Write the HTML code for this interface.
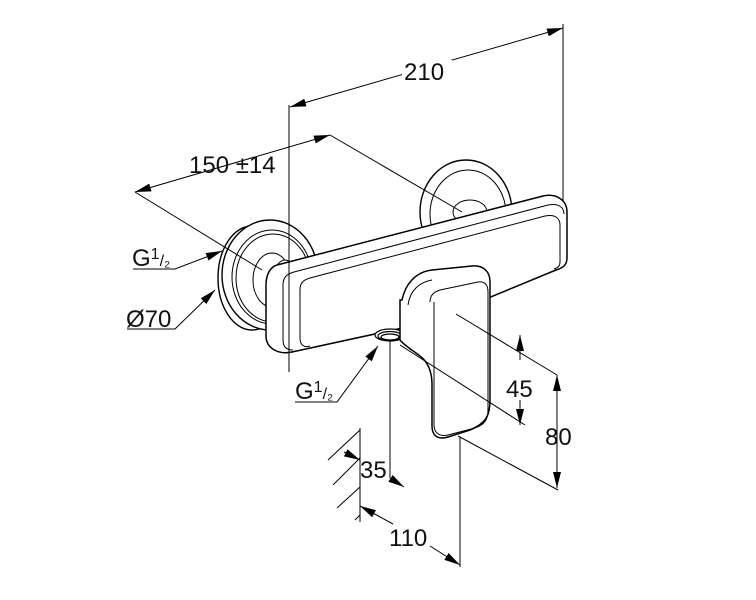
<!DOCTYPE html>
<html><head><meta charset="utf-8"><style>
html,body{margin:0;padding:0;background:#fff;}
svg{display:block;}
text{font-family:"Liberation Sans",sans-serif;fill:#111;}
</style></head><body>
<svg width="756" height="600" viewBox="0 0 756 600" xmlns="http://www.w3.org/2000/svg">
<defs>
<marker id="a" viewBox="0 0 10 5" refX="10" refY="2.5" markerWidth="17" markerHeight="8" markerUnits="userSpaceOnUse" orient="auto-start-reverse"><path d="M0,0 L10,2.5 L0,5 z" fill="#000"/></marker>
</defs>
<g fill="none" stroke="#000" stroke-width="1">
<line x1="290" y1="107" x2="563" y2="28" marker-start="url(#a)" marker-end="url(#a)"/>
<line x1="563" y1="24" x2="563" y2="215"/>
<line x1="135" y1="192" x2="330" y2="135" marker-start="url(#a)" marker-end="url(#a)"/>
<g fill="#fff" stroke-width="1.4">
<ellipse cx="466" cy="212" rx="46" ry="52"/>
</g>
<ellipse cx="468" cy="214" rx="38" ry="44"/>
<ellipse cx="470" cy="212" rx="17" ry="12"/>
<line x1="330" y1="135" x2="462" y2="212"/>
<g fill="#fff" stroke-width="1.4">
<ellipse cx="252" cy="278" rx="34" ry="52"/>
<ellipse cx="270" cy="275" rx="48" ry="55"/>
</g>
<ellipse cx="272" cy="277" rx="40" ry="47"/>
<ellipse cx="273" cy="278" rx="37" ry="44"/>
<ellipse cx="272" cy="280" rx="19" ry="27" fill="#fff"/>
<line x1="135" y1="192" x2="262" y2="270"/>
<ellipse cx="285" cy="282" rx="12" ry="22" fill="#fff"/>
<path fill="#fff" stroke-width="1.5" d="M277,265 L543,196 C556,193 567,200 567,212 L567,258 C567,265 563,268 556,270 L430,322 L292,352 C278,355 266,348 266,336 L266,285 C266,275 270,267 277,265 z"/>
<path d="M283,285 C283,277 287,274 294,272 L548,205 C558,203 564,207 564,214"/>
<path d="M300,290 C300,283 303,280 310,278 L545,216 C555,214 560,218 560,225 L560,262 C560,266 558,268 554,269"/>
<path d="M283,285 L283,340 C283,347 287,350 293,350"/>
<path d="M300,290 L300,338 C300,345 304,348 310,346"/>
<line x1="289" y1="105" x2="289" y2="372"/>
<g stroke-width="1.2" fill="#fff">
<ellipse cx="390" cy="335" rx="15" ry="6"/>
<ellipse cx="390" cy="336" rx="12" ry="4.5"/>
<ellipse cx="390" cy="337" rx="9" ry="3"/>
</g>
<path fill="#fff" stroke-width="1.5" d="M402,300 C405,285 415,272 432,270 L472,266 C484,265 490,272 490,282 L490,400 C490,418 484,424 470,430 L448,437 C438,440 432,436 432,426 L432,385 C432,372 428,362 420,356 C412,350 404,345 400,340 L400,300 z"/>
<path d="M430,302 C430,295 434,292 440,290 L478,282 C485,281 488,285 488,292 L488,410 C488,420 484,425 475,428 L448,435 C440,437 434,433 434,425 L434,302"/>
<path d="M408,305 C410,290 420,282 432,280"/>
<line x1="456" y1="314" x2="557" y2="375"/>
<line x1="400" y1="345" x2="525" y2="425"/>
<line x1="520" y1="360" x2="520" y2="335" marker-end="url(#a)"/>
<line x1="520" y1="400" x2="520" y2="425" marker-end="url(#a)"/>
<line x1="557" y1="375" x2="557" y2="488" marker-start="url(#a)" marker-end="url(#a)"/>
<line x1="458" y1="436" x2="558" y2="490"/>
<line x1="390" y1="340" x2="390" y2="478"/>
<line x1="390" y1="478" x2="404" y2="487" marker-end="url(#a)"/>
<line x1="360" y1="428" x2="360" y2="522"/>
<line x1="344" y1="452" x2="360" y2="460" marker-end="url(#a)"/>
<line x1="328" y1="460" x2="360" y2="430"/>
<line x1="333" y1="485" x2="360" y2="458"/>
<line x1="337" y1="508" x2="360" y2="487"/>
<line x1="355" y1="520" x2="360" y2="515"/>
<line x1="393" y1="524" x2="360" y2="506" marker-end="url(#a)"/>
<line x1="430" y1="546" x2="460" y2="565" marker-end="url(#a)"/>
<line x1="460" y1="437" x2="460" y2="567"/>
<polyline points="133,269 175,269 222,251" marker-end="url(#a)"/>
<polyline points="127,329 175,329 215,290" marker-end="url(#a)"/>
<polyline points="295,402 337,402 378,346" marker-end="url(#a)"/>
</g>
<rect x="402" y="60" width="50" height="26" fill="#fff"/>
<g font-size="24">
<text x="404" y="80">210</text>
<text x="189" y="173">150 ±14</text>
<text x="132" y="266">G<tspan font-size="16" dy="-7">1</tspan><tspan font-size="16" dy="7">/₂</tspan></text>
<text x="126" y="327">Ø70</text>
<text x="295" y="399">G<tspan font-size="16" dy="-7">1</tspan><tspan font-size="16" dy="7">/₂</tspan></text>
<text x="506" y="397">45</text>
<text x="545" y="445">80</text>
<text x="360" y="478">35</text>
<text x="389" y="546">110</text>
</g>
</svg>
</body></html>
